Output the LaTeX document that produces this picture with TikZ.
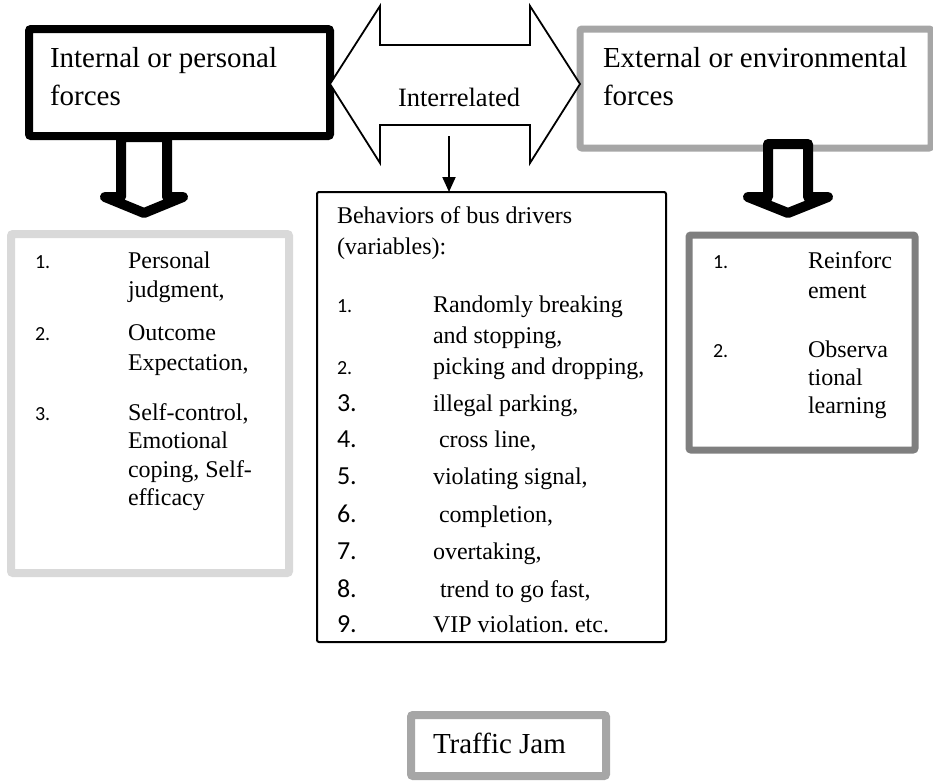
\documentclass[tikz,border=0pt]{standalone}
\usepackage{fontspec}
\setmainfont{Liberation Serif}
\newfontfamily\numfont{Carlito}
\usetikzlibrary{arrows.meta}
\definecolor{lightgr}{HTML}{D9D9D9}
\definecolor{midgr}{HTML}{A6A6A6}
\definecolor{darkgr}{HTML}{7F7F7F}
\tikzset{
  boxshape/.style={draw, rectangle, rounded corners=2pt, fill=white, inner sep=0pt, outer sep=0pt},
  txt/.style={anchor=base west, inner sep=0pt, outer sep=0pt},
  ttl/.style={txt, font=\fontsize{29}{35}\selectfont},
  body/.style={txt, font=\fontsize{24}{29}\selectfont},
  numsm/.style={txt, font=\numfont\fontsize{20}{24}\selectfont},
  numbig/.style={txt, font=\numfont\fontsize{26}{30}\selectfont},
  blockarrow/.style={draw=black, fill=white, line width=10pt, line join=round},
  dblarrow/.style={draw=black, fill=white, line width=1.8pt, line join=miter},
}
\begin{document}
\begin{tikzpicture}[x=1pt,y=-1pt]
\useasboundingbox (0,0) rectangle (933,780);

% boxes
\node[boxshape, line width=8pt, minimum width=301pt, minimum height=107pt] (inner) at (179.5,82.5) {};
\node[boxshape, draw=midgr, line width=7pt, minimum width=351pt, minimum height=119pt] (outer) at (755.5,88.5) {};
\node[boxshape, draw=lightgr, line width=8pt, minimum width=278pt, minimum height=339pt] (ilist) at (150,403.5) {};
\node[boxshape, line width=2pt, minimum width=349pt, minimum height=450pt] (mid) at (491.5,417) {};
\node[boxshape, draw=darkgr, line width=7pt, minimum width=226pt, minimum height=215pt] (elist) at (802,342.5) {};
\node[boxshape, draw=midgr, line width=8pt, minimum width=195pt, minimum height=61pt] (jam) at (508.5,745.5) {};

% double arrow "Interrelated"
\draw[dblarrow] (inner.east |- 0,84) -- (380,6) -- (380,45) -- (530,45) -- (530,6)
  -- (outer.west |- 0,84) -- (530,163) -- (530,125) -- (380,125) -- (380,163) -- cycle;
\node[txt, font=\fontsize{26.5}{30}\selectfont] (rel) at (398,106) {Interrelated};

% small arrow
\coordinate (sa) at (449,136);
\draw[line width=2pt, -{Triangle[length=15pt, width=13pt]}] (sa) -- (sa |- mid.north);

% block arrows
\draw[blockarrow] (121,137) -- (121,197) -- (105,197) -- (144,213) -- (183,197) -- (167,197) -- (167,137) -- cycle;
\draw[blockarrow] (768,144) -- (768,197) -- (748,197) -- (788,213) -- (828,197) -- (808,197) -- (808,144) -- cycle;

% titles
\node[ttl] (t1a) at (50,67) {Internal or personal};
\node[ttl] (t1b) at (50,105) {forces};
\node[ttl] (t2a) at (603,67) {External or environmental};
\node[ttl] (t2b) at (603,105) {forces};
\node[ttl] (tj) at (433,753) {Traffic Jam};

% left list
\node[numsm] (l1) at (35,268) {1.};
\node[body] (l1a) at (128,268) {Personal};
\node[body] (l1b) at (128,297) {judgment,};
\node[numsm] (l2) at (35,340) {2.};
\node[body] (l2a) at (128,340) {Outcome};
\node[body] (l2b) at (128,370) {Expectation,};
\node[numsm] (l3) at (35,420) {3.};
\node[body] (l3a) at (128,420) {Self-control,};
\node[body] (l3b) at (128,448) {Emotional};
\node[body] (l3c) at (128,477) {coping, Self-};
\node[body] (l3d) at (128,505) {efficacy};

% middle list
\node[body] (m0a) at (337,223) {Behaviors of bus drivers};
\node[body] (m0b) at (337,254) {(variables):};
\node[numsm] (m1) at (337,312) {1.};
\node[body] (m1a) at (433,312) {Randomly breaking};
\node[body] (m1b) at (433,343) {and stopping,};
\node[numsm] (m2) at (337,374) {2.};
\node[body] (m2a) at (433,374) {picking and dropping,};
\node[numbig] (m3) at (337,411) {3.};
\node[body] (m3a) at (433,411) {illegal parking,};
\node[numbig] (m4) at (337,447) {4.};
\node[body] (m4a) at (439,447) {cross line,};
\node[numbig] (m5) at (337,484) {5.};
\node[body] (m5a) at (433,484) {violating signal,};
\node[numbig] (m6) at (337,522) {6.};
\node[body] (m6a) at (439,522) {completion,};
\node[numbig] (m7) at (337,559) {7.};
\node[body] (m7a) at (433,559) {overtaking,};
\node[numbig] (m8) at (337,597) {8.};
\node[body] (m8a) at (440,597) {trend to go fast,};
\node[numbig] (m9) at (337,632) {9.};
\node[body] (m9a) at (433,632) {VIP violation.\ etc.};

% right list
\node[numsm] (r1) at (713,268) {1.};
\node[body] (r1a) at (808,268) {Reinforc};
\node[body] (r1b) at (808,298) {ement};
\node[numsm] (r2) at (713,357) {2.};
\node[body] (r2a) at (808,357) {Observa};
\node[body] (r2b) at (808,385) {tional};
\node[body] (r2c) at (808,413) {learning};
\end{tikzpicture}
\end{document}
